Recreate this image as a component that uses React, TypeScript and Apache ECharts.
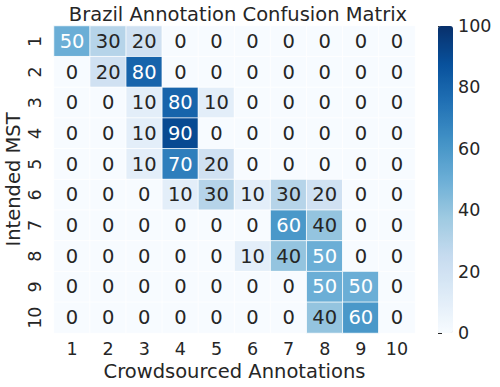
import React, { useEffect, useRef } from "react";
import * as echarts from "echarts";

const xCategories = ["1", "2", "3", "4", "5", "6", "7", "8", "9", "10"];
const yCategories = ["1", "2", "3", "4", "5", "6", "7", "8", "9", "10"];
const matrix: number[][] = [
  [50, 30, 20, 0, 0, 0, 0, 0, 0, 0],
  [0, 20, 80, 0, 0, 0, 0, 0, 0, 0],
  [0, 0, 10, 80, 10, 0, 0, 0, 0, 0],
  [0, 0, 10, 90, 0, 0, 0, 0, 0, 0],
  [0, 0, 10, 70, 20, 0, 0, 0, 0, 0],
  [0, 0, 0, 10, 30, 10, 30, 20, 0, 0],
  [0, 0, 0, 0, 0, 0, 60, 40, 0, 0],
  [0, 0, 0, 0, 0, 10, 40, 50, 0, 0],
  [0, 0, 0, 0, 0, 0, 0, 50, 50, 0],
  [0, 0, 0, 0, 0, 0, 0, 40, 60, 0],
];
const colorbarTicks = [0, 20, 40, 60, 80, 100];
const blues = ["#f7fbff", "#deebf7", "#c6dbef", "#9ecae1", "#6baed6", "#4292c6", "#2171b5", "#08519c", "#08306b"];

const FONT = "DejaVu Sans";
const DARK = "#262626";

export default function App() {
  const ref = useRef<HTMLDivElement>(null);
  useEffect(() => {
    const chart = echarts.init(ref.current!, null, { renderer: "svg" });
    const data: any[] = [];
    matrix.forEach((row, yi) =>
      row.forEach((v, xi) => {
        data.push({
          value: [xi, yi, v],
          label: { color: v >= 50 ? "#ffffff" : DARK },
        });
      })
    );
    chart.setOption({
      animation: false,
      backgroundColor: "#ffffff",
      title: {
        text: "Brazil Annotation Confusion Matrix",
        left: 233,
        textAlign: "center",
        top: -1,
        textStyle: { fontFamily: FONT, fontSize: 19.5, fontWeight: "normal", color: DARK },
      },
      grid: [
        { left: 54, top: 26, width: 361, height: 307, outerBoundsMode: "none", containLabel: false },
        { left: 438, top: 26, width: 15, height: 307, outerBoundsMode: "none", containLabel: false },
      ],
      xAxis: [
        {
          type: "category",
          data: xCategories,
          gridIndex: 0,
          name: "Crowdsourced Annotations",
          nameLocation: "middle",
          nameGap: 28,
          nameMoveOverlap: false,
          nameTextStyle: { fontFamily: FONT, fontSize: 19.5, color: DARK },
          axisLine: { show: false },
          axisTick: { show: false },
          splitLine: { show: false },
          axisLabel: { fontFamily: FONT, fontSize: 17.5, color: DARK, margin: 7 },
        },
        { type: "value", gridIndex: 1, show: false, min: 0, max: 1 },
      ],
      yAxis: [
        {
          type: "category",
          data: yCategories,
          gridIndex: 0,
          inverse: true,
          name: "Intended MST",
          nameLocation: "middle",
          nameGap: 31,
          nameMoveOverlap: false,
          nameTextStyle: { fontFamily: FONT, fontSize: 19.5, color: DARK },
          axisLine: { show: false },
          axisTick: { show: false },
          splitLine: { show: false },
          axisLabel: { fontFamily: FONT, fontSize: 17.5, color: DARK, rotate: 90, margin: 10 },
        },
        {
          type: "value",
          gridIndex: 1,
          min: 0,
          max: 100,
          interval: 20,
          position: "right",
          axisLine: { show: false },
          axisTick: { show: true, length: 4, lineStyle: { color: DARK } },
          splitLine: { show: false },
          axisLabel: { fontFamily: FONT, fontSize: 17.5, color: DARK, margin: 5,
            formatter: (v: number) => (colorbarTicks.includes(v) ? String(v) : "") },
        },
      ],
      visualMap: {
        type: "continuous",
        min: 0,
        max: 100,
        seriesIndex: 0,
        calculable: false,
        left: 438,
        top: 26,
        itemWidth: 15,
        itemHeight: 307,
        padding: 0,
        inRange: { color: blues },
      },
      series: [
        {
          type: "heatmap",
          xAxisIndex: 0,
          yAxisIndex: 0,
          data,
          label: { show: true, fontFamily: FONT, fontSize: 19.5 },
          itemStyle: { borderColor: "#ffffff", borderWidth: 0.8 },
          emphasis: { disabled: true },
        },
        {
          type: "line",
          xAxisIndex: 1,
          yAxisIndex: 1,
          data: [],
          silent: true,
        },
      ],
    });
    return () => chart.dispose();
  }, []);
  return <div ref={ref} style={{ position: "fixed", left: 0, top: 0, width: 500, height: 387 }} />;
}
